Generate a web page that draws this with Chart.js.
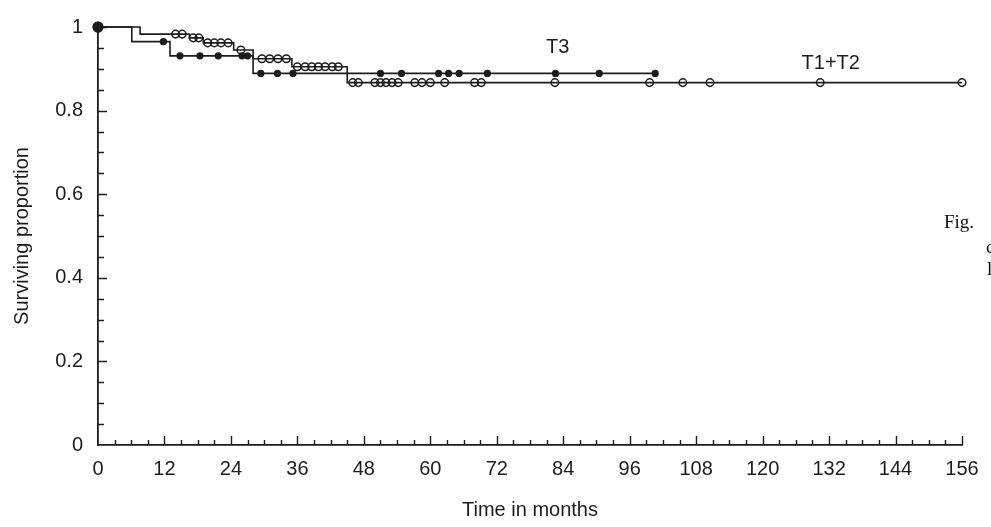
<!DOCTYPE html>
<html>
<head>
<meta charset="utf-8">
<title>Surviving proportion by T stage</title>
<script src="https://cdn.jsdelivr.net/npm/chart.js@4.4.0/dist/chart.umd.min.js"></script>
<style>
  html, body { margin: 0; padding: 0; background: #fff; overflow: hidden; }
  #wrap { position: relative; width: 991px; height: 527px; }
  .side { position: absolute; font-family: 'Liberation Serif', 'DejaVu Serif', serif; font-size: 19px; color: #111; white-space: nowrap; }
</style>
</head>
<body>
<div id="wrap">
  <canvas id="km" width="991" height="527"></canvas>
  <div class="side" style="left:944px; top:211px;">Fig.</div>
  <div class="side" style="left:986px; top:236px;">c</div>
  <div class="side" style="left:987px; top:258px;">l</div>
</div>
<script>
// Kaplan-Meier curves

var INK = '#1c1c1c';
var FONT = "'Liberation Sans', Arial, sans-serif";

// x axis (months) and y axis ticks
var X_TICKS = [0, 12, 24, 36, 48, 60, 72, 84, 96, 108, 120, 132, 144, 156];
var Y_TICKS = [0, 0.2, 0.4, 0.6, 0.8, 1];

// T1+T2: step times and surviving proportion after each step
var T12_TIMES = [0, 7.6, 16.5, 19, 24.5, 28, 35, 45, 156];
var T12_SURV  = [1, 0.983, 0.974, 0.962, 0.945, 0.924, 0.905, 0.867, 0.867];
// T1+T2 censored cases (months)
var T12_CENSOR = [14, 15.2, 17.2, 18.2, 19.8, 21, 22.2, 23.5, 25.8,
  29.6, 31, 32.5, 34, 36, 37.4, 38.6, 39.8, 41, 42.3, 43.4,
  46, 47, 50, 51, 52, 53.1, 54.2, 57.2, 58.5, 60, 62.6, 68, 69.2,
  82.5, 99.6, 105.6, 110.5, 130.4, 156];

// T3: step times and surviving proportion after each step
var T3_TIMES = [0, 6.1, 13, 28, 100.6];
var T3_SURV  = [1, 0.965, 0.931, 0.889, 0.889];
// T3 censored cases (months)
var T3_CENSOR = [11.8, 14.8, 18.4, 21.7, 26, 27, 29.4, 32.4, 35.2,
  51, 54.8, 61.5, 63.3, 65.2, 70.3, 82.6, 90.5, 100.6];

function curvePoints(times, surv) {
  return times.map(function (t, i) { return { x: t, y: surv[i] }; });
}

// value of the step curve at time t (for placing censor marks on it)
function survAt(times, surv, t) {
  var v = surv[0];
  for (var i = 0; i < times.length; i++) {
    if (times[i] <= t) v = surv[i];
  }
  return v;
}

function censorPoints(times, surv, cens) {
  return cens.map(function (t) { return { x: t, y: survAt(times, surv, t) }; });
}

// inward tick marks + curve labels
var innerTicks = {
  id: 'innerTicks',
  afterDraw: function (chart) {
    var ctx = chart.ctx, xs = chart.scales.x, ys = chart.scales.y, a = chart.chartArea;
    var m, k, len;
    ctx.save();
    ctx.strokeStyle = INK;
    ctx.lineWidth = 1.4;
    ctx.beginPath();
    for (m = 3; m <= 156; m += 3) {
      var px = Math.round(xs.getPixelForValue(m)) + 0.5;
      len = m % 12 === 0 ? 9 : 5;
      ctx.moveTo(px, a.bottom);
      ctx.lineTo(px, a.bottom - len);
    }
    for (k = 1; k <= 20; k++) {
      var py = Math.round(ys.getPixelForValue(k * 0.05)) + 0.5;
      len = k % 4 === 0 ? 9 : 6;
      ctx.moveTo(a.left, py);
      ctx.lineTo(a.left + len, py);
    }
    ctx.stroke();

    ctx.fillStyle = INK;
    ctx.font = '20px ' + FONT;
    ctx.textAlign = 'center';
    ctx.textBaseline = 'middle';
    ctx.fillText('T3', xs.getPixelForValue(83), ys.getPixelForValue(0.951));
    ctx.fillText('T1+T2', xs.getPixelForValue(132.3), ys.getPixelForValue(0.912));
    ctx.restore();
  }
};

var startDot = function (c) { return c.dataIndex === 0 ? 5.5 : 0; };

new Chart(document.getElementById('km'), {
  type: 'scatter',
  data: {
    datasets: [
      {
        label: 'T1+T2',
        data: curvePoints(T12_TIMES, T12_SURV),
        showLine: true,
        stepped: true,
        borderColor: INK,
        borderWidth: 1.6,
        pointRadius: startDot,
        pointBackgroundColor: INK,
        pointBorderWidth: 0,
        clip: false
      },
      {
        label: 'T3',
        data: curvePoints(T3_TIMES, T3_SURV),
        showLine: true,
        stepped: true,
        borderColor: INK,
        borderWidth: 1.6,
        pointRadius: startDot,
        pointBackgroundColor: INK,
        pointBorderWidth: 0,
        clip: false
      },
      {
        label: 'T1+T2 censored',
        data: censorPoints(T12_TIMES, T12_SURV, T12_CENSOR),
        showLine: false,
        pointStyle: 'circle',
        pointRadius: 3.8,
        pointBorderWidth: 1.5,
        pointBorderColor: INK,
        pointBackgroundColor: 'rgba(255,255,255,0)',
        clip: false
      },
      {
        label: 'T3 censored',
        data: censorPoints(T3_TIMES, T3_SURV, T3_CENSOR),
        showLine: false,
        pointStyle: 'circle',
        pointRadius: 3.6,
        pointBorderWidth: 0,
        pointBackgroundColor: INK,
        clip: false
      }
    ]
  },
  options: {
    responsive: false,
    animation: false,
    layout: { padding: { left: 0, right: 29, top: 23, bottom: 0 } },
    plugins: {
      legend: { display: false },
      tooltip: { enabled: false }
    },
    scales: {
      x: {
        type: 'linear',
        min: 0,
        max: 156,
        afterBuildTicks: function (s) { s.ticks = X_TICKS.map(function (v) { return { value: v }; }); },
        afterFit: function (s) { s.height = 82; },
        grid: { display: false, drawTicks: false },
        border: { display: true, color: INK, width: 1.8 },
        ticks: { color: INK, padding: 12, font: { family: FONT, size: 20 }, maxRotation: 0, autoSkip: false },
        title: { display: true, text: 'Time in months', color: INK, font: { family: FONT, size: 20 }, padding: { top: 0, bottom: 5 } }
      },
      y: {
        type: 'linear',
        min: 0,
        max: 1,
        afterBuildTicks: function (s) { s.ticks = Y_TICKS.map(function (v) { return { value: v }; }); },
        afterFit: function (s) { s.width = 98; },
        grid: { display: false, drawTicks: false },
        border: { display: true, color: INK, width: 1.8 },
        ticks: {
          color: INK, padding: 15, font: { family: FONT, size: 20 },
          callback: function (v) { return String(Math.round(v * 10) / 10); }
        },
        title: { display: true, text: 'Surviving proportion', color: INK, font: { family: FONT, size: 20 }, padding: { top: 10, bottom: 0 } }
      }
    }
  },
  plugins: [innerTicks]
});
</script>
</body>
</html>
